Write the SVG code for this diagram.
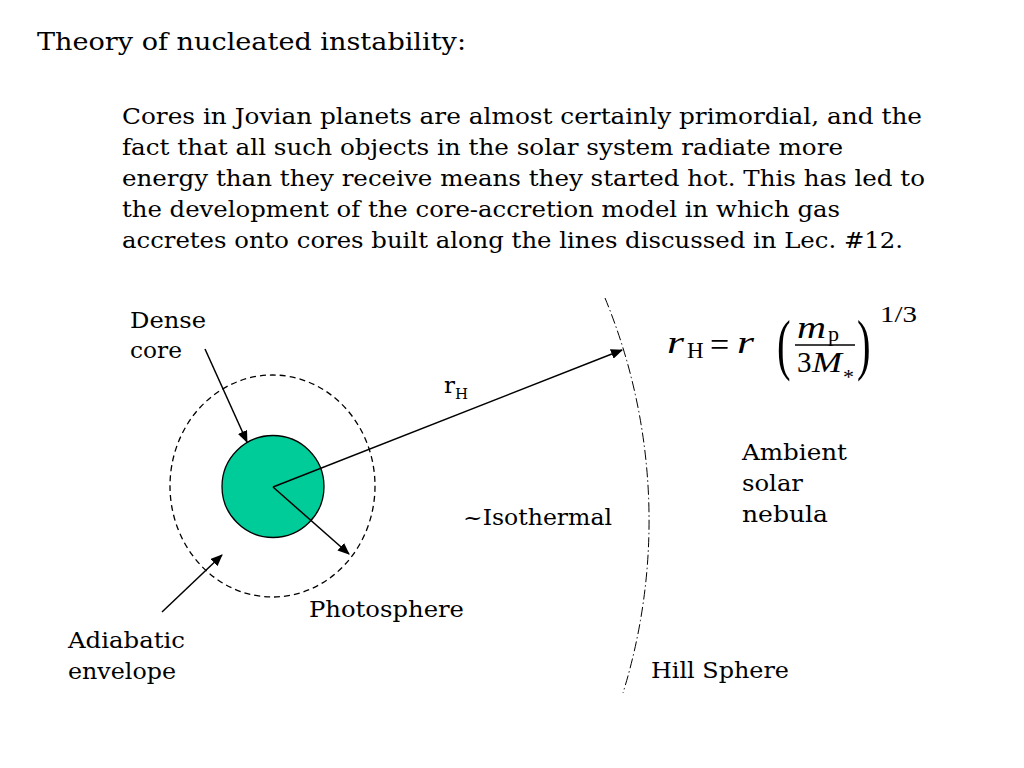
<svg xmlns="http://www.w3.org/2000/svg" width="1024" height="768" viewBox="0 0 1024 768">
<style>
.t{font-family:"DejaVu Serif","Liberation Serif",serif;font-size:23px;fill:#000}
.m{font-family:"Liberation Serif","DejaVu Serif",serif;fill:#000}
.i{font-style:italic}
.ln{stroke:#000;stroke-width:1.5;fill:none}
</style>
<defs>
<marker id="ah" markerWidth="12" markerHeight="10" refX="11" refY="5" orient="auto" markerUnits="userSpaceOnUse">
<path d="M0,0 L12,5 L0,10 Z" fill="#000"/>
</marker>
</defs>
<rect width="1024" height="768" fill="#fff"/>
<g id="title">
<text class="t" x="37" y="50" textLength="429" lengthAdjust="spacingAndGlyphs" style="font-size:24px">Theory of nucleated instability:</text>
</g>
<g id="paragraph">
<text class="t" x="122" y="124" textLength="800" lengthAdjust="spacingAndGlyphs">Cores in Jovian planets are almost certainly primordial, and the</text>
<text class="t" x="122" y="155" textLength="721" lengthAdjust="spacingAndGlyphs">fact that all such objects in the solar system radiate more</text>
<text class="t" x="122" y="186" textLength="803" lengthAdjust="spacingAndGlyphs">energy than they receive means they started hot. This has led to</text>
<text class="t" x="122" y="217" textLength="718" lengthAdjust="spacingAndGlyphs">the development of the core-accretion model in which gas</text>
<text class="t" x="122" y="248" textLength="781" lengthAdjust="spacingAndGlyphs">accretes onto cores built along the lines discussed in Lec. #12.</text>
</g>
<g id="envelope">
<ellipse cx="272.5" cy="486" rx="102.5" ry="111" fill="none" stroke="#000" stroke-width="1.3" stroke-dasharray="6 4"/>
</g>
<g id="core">
<circle cx="273" cy="486.5" r="51" fill="#00CC99" stroke="#000" stroke-width="1.3"/>
</g>
<g id="hill-sphere">
<path d="M605,298 A584,584 0 0 1 623,693" fill="none" stroke="#000" stroke-width="1" stroke-dasharray="10 3 1.5 3"/>
</g>
<g id="connectors">
<line class="ln" x1="273" y1="487" x2="622" y2="350" marker-end="url(#ah)"/>
<line class="ln" x1="273" y1="487" x2="349" y2="554" marker-end="url(#ah)"/>
<line class="ln" x1="205" y1="349" x2="247" y2="442" marker-end="url(#ah)"/>
<line class="ln" x1="162" y1="612" x2="222" y2="555" marker-end="url(#ah)"/>
</g>
<g id="labels">
<text class="t" x="130" y="328" textLength="76" lengthAdjust="spacingAndGlyphs">Dense</text>
<text class="t" x="130" y="358" textLength="52" lengthAdjust="spacingAndGlyphs">core</text>
<text class="t" x="68" y="648" textLength="117" lengthAdjust="spacingAndGlyphs">Adiabatic</text>
<text class="t" x="68" y="679" textLength="108" lengthAdjust="spacingAndGlyphs">envelope</text>
<text class="t" x="309" y="617" textLength="155" lengthAdjust="spacingAndGlyphs">Photosphere</text>
<text class="t" x="463" y="525" textLength="149" lengthAdjust="spacingAndGlyphs">~Isothermal</text>
<text class="t" x="742" y="460" textLength="105" lengthAdjust="spacingAndGlyphs">Ambient</text>
<text class="t" x="742" y="491" textLength="61" lengthAdjust="spacingAndGlyphs">solar</text>
<text class="t" x="742" y="522" textLength="86" lengthAdjust="spacingAndGlyphs">nebula</text>
<text class="t" x="651" y="678" textLength="138" lengthAdjust="spacingAndGlyphs">Hill Sphere</text>
<text class="t" x="444" y="393">r<tspan x="455" y="399" style="font-size:15px">H</tspan></text>
</g>
<g id="formula">
<text class="m" font-size="32"><tspan class="i" x="667" y="353" textLength="17" lengthAdjust="spacingAndGlyphs">r</tspan><tspan x="687" y="358" font-size="23">H</tspan><tspan x="710" y="356" font-size="34">=</tspan><tspan class="i" x="737" y="353" textLength="17" lengthAdjust="spacingAndGlyphs">r</tspan></text>
<text class="m" font-size="68" transform="translate(777,367) scale(0.6,1)">(</text>
<text class="m" font-size="32"><tspan class="i" x="797" y="338" textLength="29" lengthAdjust="spacingAndGlyphs">m</tspan><tspan x="828" y="341" font-size="22">p</tspan></text>
<line x1="795" y1="345" x2="855" y2="345" stroke="#000" stroke-width="1.4"/>
<text class="m" font-size="29"><tspan x="797" y="372">3</tspan><tspan class="i" x="812" y="372" textLength="30" lengthAdjust="spacingAndGlyphs">M</tspan><tspan x="843" y="384" font-size="22">*</tspan></text>
<text class="m" font-size="68" transform="translate(857,367) scale(0.6,1)">)</text>
<text class="m" x="880" y="322" font-size="23" textLength="37" lengthAdjust="spacingAndGlyphs">1/3</text>
</g>
</svg>
